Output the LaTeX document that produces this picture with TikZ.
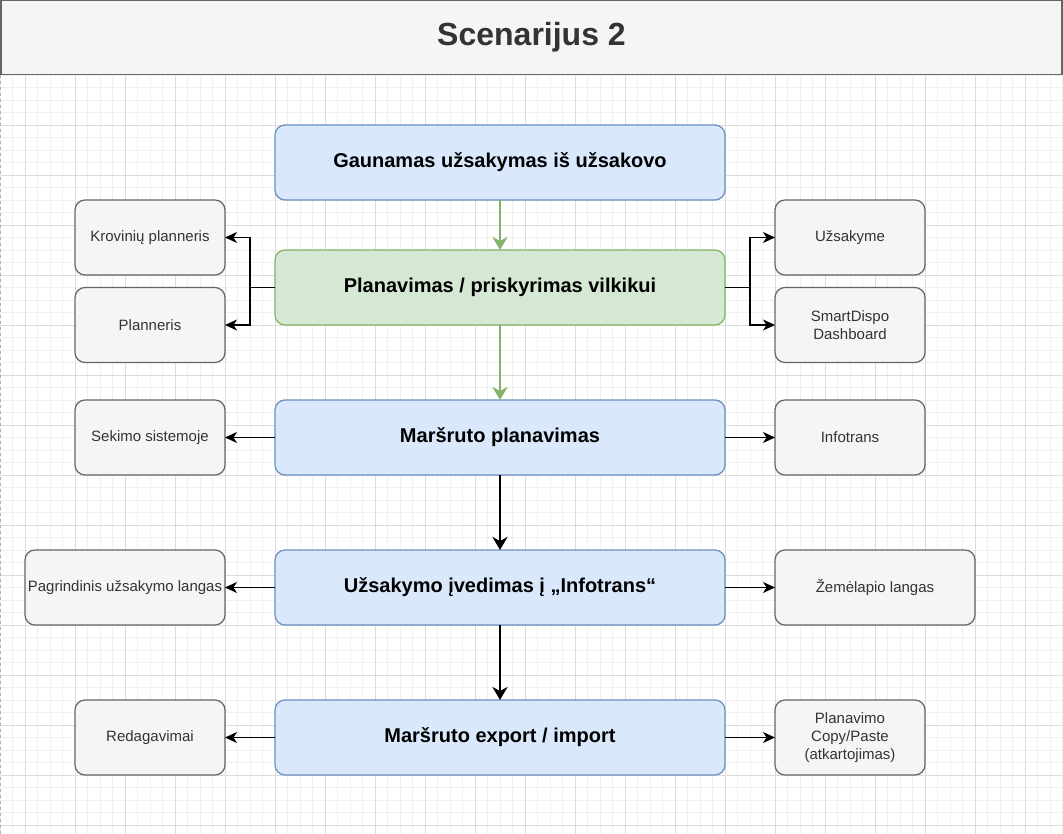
\documentclass[tikz,border=0pt]{standalone}
\usepackage{fontspec}
\setmainfont{Liberation Sans}
\usepackage{tikz}
\usetikzlibrary{
  arrows.meta,
  positioning,
  calc
}
\definecolor{scBlue}{HTML}{DAE8FC}
\definecolor{scBlueLine}{HTML}{6C8EBF}
\definecolor{scGreen}{HTML}{D5E8D4}
\definecolor{scGreenLine}{HTML}{82B366}
\definecolor{scGray}{HTML}{F5F5F5}
\definecolor{scGrayLine}{HTML}{666666}
\definecolor{scText}{HTML}{333333}
\definecolor{scGridMinor}{HTML}{F0F0F0}
\definecolor{scGridMajor}{HTML}{DCDCDC}
\tikzset{
  scnode/.style={
    draw, rounded corners=10pt, line width=1.25pt, align=center, inner sep=2pt, outer sep=0pt
  },
  mainbox/.style={scnode, fill=scBlue, draw=scBlueLine, minimum width=450pt, minimum height=75pt,
    font=\fontsize{20}{24}\selectfont\bfseries},
  planbox/.style={mainbox, fill=scGreen, draw=scGreenLine},
  sidebox/.style={scnode, fill=scGray, draw=scGrayLine, text=scText, minimum width=150pt, minimum height=75pt,
    font=\fontsize{15}{18}\selectfont},
  widebox/.style={sidebox, minimum width=200pt},
  titlebar/.style={draw=scGrayLine, fill=scGray, text=scText, line width=1.5pt,
    minimum width=1061pt, minimum height=74pt, font=\fontsize{32}{38}\selectfont\bfseries},
  gridminor/.style={scGridMinor, line width=0.6pt},
  gridmajor/.style={scGridMajor, line width=0.8pt},
  pageedge/.style={scGrayLine!50, dashed, line width=1pt},
  mainflow/.style={-{Stealth[length=13pt, width=15pt, inset=4pt]}, line width=2.5pt, black},
  planflow/.style={mainflow, scGreenLine},
  sideflow/.style={-{Stealth[length=12pt, width=11pt, inset=3.5pt]}, line width=1.5pt, black}
}

\begin{document}
\begin{tikzpicture}[x=1pt, y=-1pt, node distance=75pt]
  \useasboundingbox (0,0) rectangle (1063,834);
  \draw[gridminor, step=12.5pt] (0,75) grid (1063,834);
  \foreach \gx in {25,75,...,1025} \draw[gridmajor] (\gx,75) -- (\gx,834);
  \foreach \gy in {125,175,...,825} \draw[gridmajor] (0,\gy) -- (1063,\gy);
  \draw[pageedge] (0.75,75) -- (0.75,834);

  \node[titlebar] (title) at (531.5,37.5) {Scenarijus 2};

  \node[mainbox] (order) at (500,162.5) {Gaunamas užsakymas iš užsakovo};
  \node[planbox, below=50pt of order] (plan) {Planavimas / priskyrimas vilkikui};
  \node[mainbox, below=of plan] (route) {Maršruto planavimas};
  \node[mainbox, below=of route] (entry) {Užsakymo įvedimas į „Infotrans“};
  \node[mainbox, below=of entry] (export) {Maršruto export / import};

  \node[sidebox, left=50pt of plan.west, yshift=50pt] (cargo) {Krovinių planneris};
  \node[sidebox, left=50pt of plan.west, yshift=-37.5pt] (planner) {Planneris};
  \node[sidebox, right=50pt of plan.east, yshift=50pt] (inorder) {Užsakyme};
  \node[sidebox, right=50pt of plan.east, yshift=-37.5pt] (dispo) {SmartDispo\\Dashboard};
  \node[sidebox, left=50pt of route] (tracking) {Sekimo sistemoje};
  \node[sidebox, right=50pt of route] (infotrans) {Infotrans};
  \node[widebox, left=50pt of entry] (mainwin) {Pagrindinis užsakymo langas};
  \node[widebox, right=50pt of entry] (mapwin) {Žemėlapio langas};
  \node[sidebox, left=50pt of export] (edits) {Redagavimai};
  \node[sidebox, right=50pt of export] (copy) {Planavimo\\Copy/Paste\\(atkartojimas)};

  \draw[planflow] (order) -- (plan);
  \draw[planflow] (plan) -- (route);
  \draw[mainflow] (route) -- (entry);
  \draw[mainflow] (entry) -- (export);

  \draw[sideflow] (plan.west) -- ++(-25pt,0) |- (cargo.east);
  \draw[sideflow] (plan.west) -- ++(-25pt,0) |- (planner.east);
  \draw[sideflow] (plan.east) -- ++(25pt,0) |- (inorder.west);
  \draw[sideflow] (plan.east) -- ++(25pt,0) |- (dispo.west);
  \draw[sideflow] (route) -- (tracking);
  \draw[sideflow] (route) -- (infotrans);
  \draw[sideflow] (entry) -- (mainwin);
  \draw[sideflow] (entry) -- (mapwin);
  \draw[sideflow] (export) -- (edits);
  \draw[sideflow] (export) -- (copy);
\end{tikzpicture}
\end{document}
